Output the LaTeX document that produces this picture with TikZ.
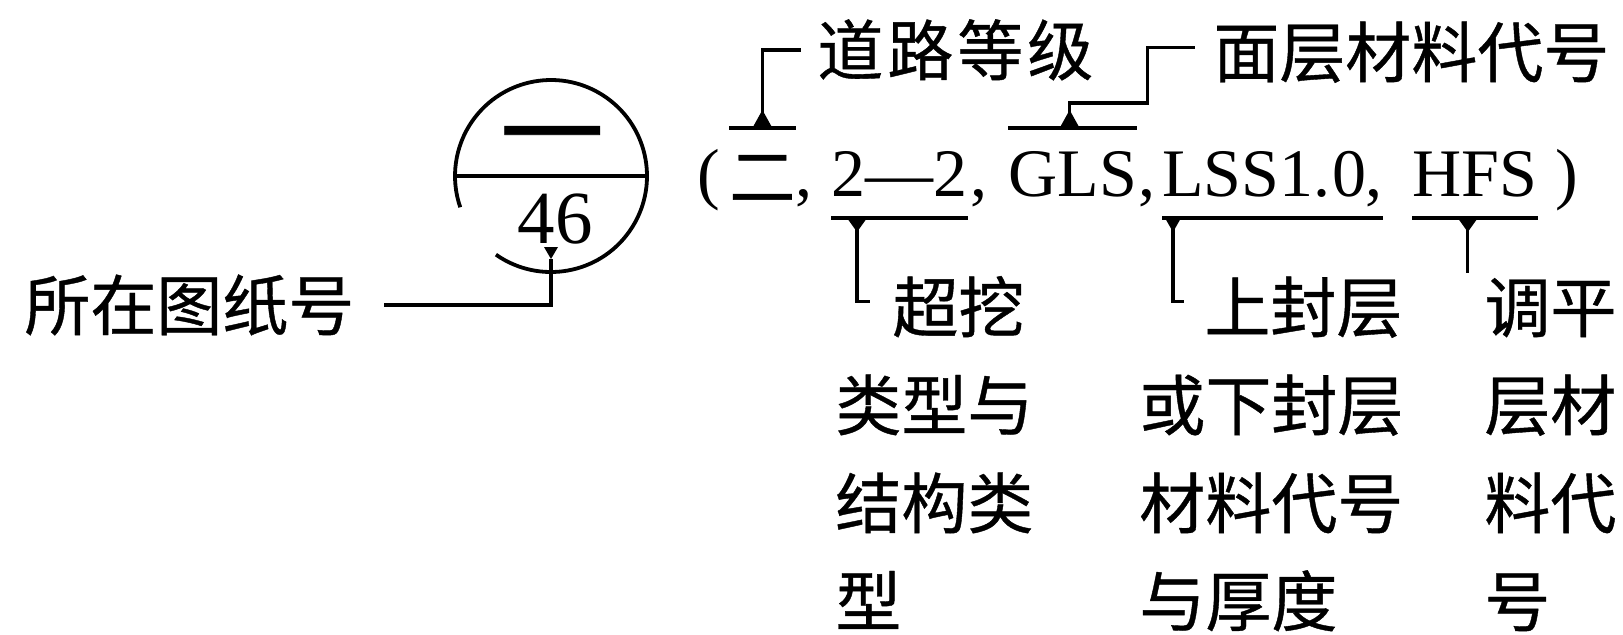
\documentclass[tikz,border=0pt]{standalone}
\usepackage{fontspec}
\setmainfont{Liberation Serif}
\newfontfamily\cjk[FakeBold=0.6]{Noto Sans CJK SC}
\usetikzlibrary{calc}
\begin{document}
\begin{tikzpicture}[x=0.5pt,y=-0.5pt,
  lat/.style={inner sep=0pt, anchor=base west, font=\fontsize{34}{34}\selectfont},
  zh/.style={inner sep=0pt, anchor=base west, font=\cjk\fontsize{33}{33}\selectfont},
  bar/.style={line width=2.1pt},
  lead/.style={line width=1.7pt},
]
\useasboundingbox (0,0) rectangle (1623,634);

% circle symbol
\node[circle, minimum size=96pt, inner sep=0pt] (cir) at (551,176) {};
\draw[line width=1.9pt] ([shift={(235:48pt)}]cir.center) arc[start angle=235, end angle=559, radius=48pt];
\draw[line width=1.6pt] (cir.west) -- (cir.east);
\node[inner sep=0pt, anchor=base, font=\cjk\fontsize{52}{52}\selectfont] (yi) at (552,171) {一};
\node[inner sep=0pt, anchor=base, font=\fontsize{37.5}{37.5}\selectfont] (num) at (555,243) {46};

% code line
\node[lat] (lp) at (697,196) {(};
\node[zh] (er) at (729,201) {二};
\node[lat] (k1) at (795,196) {,};
\node[lat] (dd) at (831,196) {2—2};
\node[lat] (k2) at (970,196) {,};
\node[lat] (gls) at (1008,196) {GLS};
\node[lat] (k3) at (1138,196) {,};
\node[lat] (lss) at (1162,196) {LSS1.\kern1pt0};
\node[lat] (k4) at (1365,196) {,};
\node[lat] (hfs) at (1412,196) {HFS};
\node[lat] (rp) at (1555,196) {)};

% labels
\node[zh] (lA) at (817,75) {道\kern2pt路\kern2pt等\kern2pt级};
\node[zh] (lB) at (1213,77) {面层材料代号};
\node[zh] (lS) at (24,330) {所在图纸号};

\node[zh] (c1r1) at (892,332) {超挖};
\node[zh] (c1r2) at (835,430) {类型与};
\node[zh] (c1r3) at (835,528) {结构类};
\node[zh] (c1r4) at (835,626) {型};
\node[zh] (c2r1) at (1204,332) {上封层};
\node[zh] (c2r2) at (1139,430) {或下封层};
\node[zh] (c2r3) at (1139,528) {材料代号};
\node[zh] (c2r4) at (1139,626) {与厚度};
\node[zh] (c3r1) at (1484,332) {调平};
\node[zh] (c3r2) at (1484,430) {层材};
\node[zh] (c3r3) at (1484,528) {料代};
\node[zh] (c3r4) at (1484,626) {号};

\coordinate (ovl) at (0,128);
\coordinate (unl) at (0,218);

% A: road class
\draw[bar] (er.west |- ovl) -- (er.east |- ovl);
\coordinate (jA) at (er.center |- ovl);
\draw[lead] (jA) |- ([xshift=-8pt]lA.west);
\fill ([xshift=-5pt]jA) -- ([xshift=5pt]jA) -- ([yshift=9pt]jA) -- cycle;

% B: surface material
\draw[bar] (gls.west |- ovl) -- (gls.east |- ovl);
\coordinate (jB) at ($(gls.center |- ovl)+(-3,0)$);
\coordinate (kB) at ($(jB)+(78,-25)$);
\draw[lead] (jB) |- (kB) |- ([xshift=-9pt,yshift=2.5pt]lB.west);
\fill ([xshift=-5pt]jB) -- ([xshift=5pt]jB) -- ([yshift=9pt]jB) -- cycle;

% C: over-excavation
\draw[bar] (dd.west |- unl) -- (dd.east |- unl);
\coordinate (jC) at ($(dd.west |- unl)+(26,0)$);
\draw[lead] (jC) |- ([xshift=-11pt,yshift=2.5pt]c1r1.west);
\fill ([xshift=-5pt]jC) -- ([xshift=5pt]jC) -- ([yshift=-7pt]jC) -- cycle;

% D: seal layer
\draw[bar] (lss.west |- unl) -- (k4.east |- unl);
\coordinate (jD) at ($(lss.west |- unl)+(11,0)$);
\draw[lead] (jD) |- ([xshift=-10pt,yshift=3pt]c2r1.west);
\fill ([xshift=-4pt]jD) -- ([xshift=4pt]jD) -- ([yshift=-7pt]jD) -- cycle;

% E: leveling layer
\draw[bar] (hfs.west |- unl) -- (hfs.east |- unl);
\coordinate (jE) at ($(hfs.center |- unl)+(-7,0)$);
\draw[lead] (jE) -- ($(jE |- c3r1.north)+(0,-5)$);
\fill ([xshift=-5pt]jE) -- ([xshift=5pt]jE) -- ([yshift=-7pt]jE) -- cycle;

% sheet number
\coordinate (mk) at ($(cir.center)+(0,71)$);
\fill ([xshift=-3.5pt]mk) -- ([xshift=3.5pt]mk) -- ([yshift=-6pt]mk) -- cycle;
\draw[lead] ([yshift=-6pt]mk) |- ([xshift=14.5pt]lS.east);
\end{tikzpicture}
\end{document}
